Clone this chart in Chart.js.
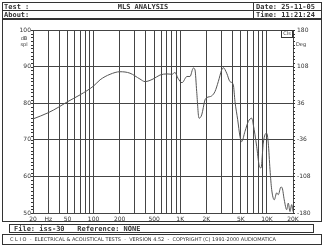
<!DOCTYPE html>
<html>
<head>
<meta charset="utf-8">
<script src="https://cdn.jsdelivr.net/npm/chart.js@4.4.1/dist/chart.umd.min.js"></script>
<style>
  html, body { margin: 0; padding: 0; background: #fff; }
  #wrap { width: 325px; height: 250px; }
</style>
</head>
<body>
<div id="wrap"><canvas id="mlsChart"></canvas></div>
<script>
// MLS magnitude response
const freqHz = [20, 30, 40, 50, 70, 100, 119, 155, 202, 263, 343, 392, 485, 584, 703, 804, 870, 942, 1048, 1197,
    1295, 1416, 1480, 1548, 1646, 1768, 1930, 2020, 2306, 2518, 2748, 3008, 3140, 3436, 3750, 4096, 4285, 4600, 4890, 5116,
    5586, 6100, 6674, 6966, 7620, 8110, 8550, 9080, 9505, 9940, 10370, 10860, 11350, 12160, 12970, 13520, 14520, 15030, 15850, 16900,
    17650, 18460, 19320, 20000];
const splDb = [75.7, 77.4, 79.0, 80.4, 82.3, 84.7, 86.4, 87.9, 88.6, 88.2, 86.6, 85.9, 86.6, 87.7, 88.0, 87.9, 88.4, 86.8, 85.6, 87.3,
    87.3, 89.6, 89.1, 83.2, 75.9, 76.8, 80.9, 81.5, 82.0, 83.2, 85.9, 89.1, 89.7, 88.2, 85.9, 85.0, 80.4, 75.5, 70.9, 69.5,
    72.3, 75.0, 75.9, 74.1, 68.2, 63.2, 62.3, 69.1, 71.4, 71.8, 69.1, 61.8, 56.4, 53.6, 55.5, 55.0, 57.1, 56.8, 53.6, 50.9,
    52.7, 50.4, 52.3, 50.4];

// axes
const xGridHz = [20, 30, 40, 50, 60, 70, 80, 90, 100, 200, 300, 400, 500, 600, 700, 800, 900,
    1000, 2000, 3000, 4000, 5000, 6000, 7000, 8000, 9000, 10000, 20000];
const xTickText = { 20: '20', 30: 'Hz', 50: '50', 100: '100', 200: '200', 500: '500',
    1000: '1K', 2000: '2K', 5000: '5K', 10000: '10K', 20000: '20K' };
const dbTicks = [50, 60, 70, 80, 90, 100];
const degTicks = [-180, -108, -36, 36, 108, 180];

const ink = '#333';
const gridInk = '#444';
const smallFont = '"DejaVu Sans", sans-serif';
const monoFont = '"DejaVu Sans Mono", monospace';

// frames, header and footer text of the CLIO window
const clioFrame = {
    id: 'clioFrame',
    afterDraw(chart) {
        const ctx = chart.ctx;
        const area = chart.chartArea;
        const y = chart.scales.y;
        ctx.save();
        ctx.strokeStyle = ink;
        ctx.lineWidth = 1;

        // header box
        ctx.strokeRect(2.5, 2.5, 319, 16);
        ctx.beginPath();
        ctx.moveTo(2.5, 10.5); ctx.lineTo(321.5, 10.5);
        ctx.moveTo(253.5, 2.5); ctx.lineTo(253.5, 18.5);
        ctx.stroke();

        // chart frame, file box, footer box
        ctx.strokeRect(2.5, 19.5, 319, 202);
        ctx.strokeRect(9.5, 224.5, 304, 8);
        ctx.strokeRect(2.5, 234.5, 319, 10);

        // small ticks along left and right axes
        ctx.beginPath();
        for (let v = 50; v <= 100; v += 1) {
            const py = Math.round(y.getPixelForValue(v)) + 0.5;
            ctx.moveTo(area.left - 2, py); ctx.lineTo(area.left, py);
            ctx.moveTo(area.right, py); ctx.lineTo(area.right + 2, py);
        }
        ctx.stroke();

        // little legend box at top right
        ctx.strokeRect(281.5, 30.5, 11, 7);

        ctx.fillStyle = ink;
        ctx.textBaseline = 'middle';
        ctx.font = 'bold 7px ' + monoFont;
        ctx.textAlign = 'left';
        ctx.fillText('Test :', 4, 7);
        ctx.fillText('About:', 4, 15);
        ctx.fillText('Date: 25-11-05', 256, 7);
        ctx.fillText('Time: 11:21:24', 256, 15);
        ctx.textAlign = 'center';
        ctx.fillText('MLS ANALYSIS', 143, 7);

        ctx.textAlign = 'left';
        ctx.fillText('File: iss-30   Reference: NONE', 14, 228.8);

        ctx.font = '5px ' + smallFont;
        ctx.fillText('C L I O  -  ELECTRICAL & ACOUSTICAL TESTS  -  VERSION 4.52  -  COPYRIGHT (C) 1991-2000 AUDIOMATICA', 10, 239.8, 303);

        // unit labels
        ctx.font = '5px ' + smallFont;
        ctx.textAlign = 'center';
        ctx.fillText('dB', 24, 39);
        ctx.fillText('spl', 24, 45);
        ctx.fillText('Deg', 301, 45);
        ctx.fillText('Cls', 287, 34);
        ctx.restore();
    }
};

const points = freqHz.map((f, i) => ({ x: f, y: splDb[i] }));

new Chart(document.getElementById('mlsChart'), {
    type: 'line',
    data: {
        datasets: [{
            data: points,
            borderColor: '#555',
            borderWidth: 1,
            pointRadius: 0,
            fill: false,
            cubicInterpolationMode: 'monotone'
        }]
    },
    options: {
        responsive: true,
        maintainAspectRatio: false,
        animation: false,
        events: [],
        layout: { padding: { top: 30, left: 0, right: 0, bottom: 0 } },
        plugins: { legend: { display: false }, tooltip: { enabled: false } },
        scales: {
            x: {
                type: 'logarithmic',
                min: 20,
                max: 20000,
                afterBuildTicks: s => { s.ticks = xGridHz.map(v => ({ value: v })); },
                afterFit: s => { s.height = 37; },
                grid: { color: gridInk, lineWidth: 1, drawTicks: false },
                border: { display: false },
                ticks: {
                    autoSkip: false,
                    maxRotation: 0,
                    padding: 3,
                    color: ink,
                    font: { family: smallFont, size: 6 },
                    callback: v => xTickText[v] || ''
                }
            },
            y: {
                position: 'left',
                min: 50,
                max: 100,
                afterBuildTicks: s => { s.ticks = dbTicks.map(v => ({ value: v })); },
                afterFit: s => { s.width = 33; },
                grid: { color: gridInk, lineWidth: 1, drawTicks: false },
                border: { display: false },
                ticks: { padding: 2, color: ink, font: { family: smallFont, size: 6 } }
            },
            y1: {
                position: 'right',
                min: -180,
                max: 180,
                afterBuildTicks: s => { s.ticks = degTicks.map(v => ({ value: v })); },
                afterFit: s => { s.width = 32; },
                grid: { display: false, drawTicks: false },
                border: { display: false },
                ticks: { padding: 4, color: ink, font: { family: smallFont, size: 6 } }
            }
        }
    },
    plugins: [clioFrame]
});
</script>
</body>
</html>
